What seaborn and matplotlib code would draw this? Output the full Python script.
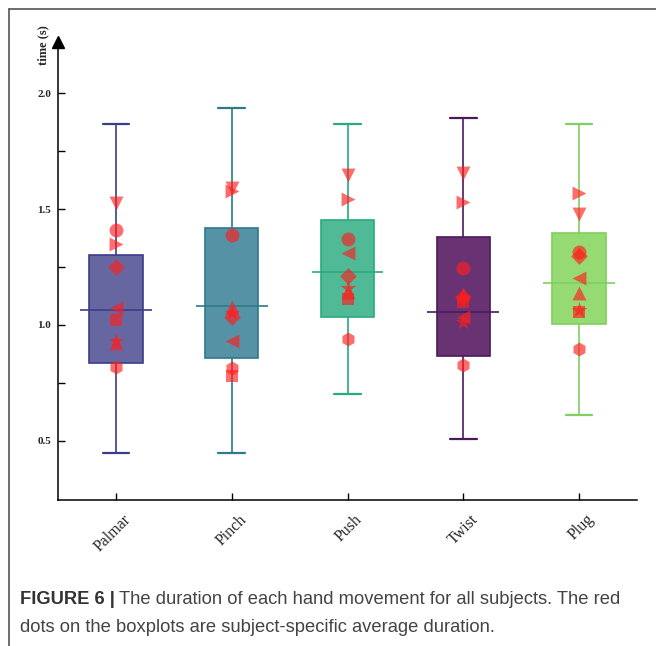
import numpy as np
import pandas as pd
import matplotlib.pyplot as plt
import matplotlib.transforms as mtransforms
from matplotlib.lines import Line2D
import seaborn as sns

# movements and box statistics (whisker low, q1, median, q3, whisker high)
movements = ["Palmar", "Pinch", "Push", "Twist", "Plug"]
whis_lo = [0.449, 0.449, 0.703, 0.507, 0.612]
q1 = [0.835, 0.856, 1.036, 0.867, 1.004]
median = [1.063, 1.082, 1.229, 1.055, 1.183]
q3 = [1.302, 1.420, 1.453, 1.381, 1.398]
whis_hi = [1.868, 1.937, 1.868, 1.893, 1.868]

fill_colors = ["#6666a0", "#5592a5", "#50b996", "#693373", "#96da73"]
edge_colors = ["#3c3c8c", "#2e7a8a", "#2aaa80", "#4a1a5a", "#7fd05e"]

# subject-specific averages, one marker per subject
subject_markers = ["v", "o", ">", "D", "<", "s", "*", "^", "h"]
subject_vals = {
    "v": [1.525, 1.591, 1.647, 1.657, 1.478],
    "o": [1.410, 1.387, 1.370, 1.245, 1.316],
    ">": [1.348, 1.578, 1.543, 1.530, 1.568],
    "D": [1.249, 1.036, 1.211, 1.121, 1.298],
    "<": [1.072, 0.932, 1.309, 1.036, 1.202],
    "s": [1.020, 0.780, 1.111, 1.101, 1.055],
    "*": [0.932, 1.052, 1.160, 1.013, 1.065],
    "^": [0.924, 1.079, 1.142, 1.134, 1.139],
    "h": [0.819, 0.814, 0.941, 0.827, 0.895],
}

sns.set_style("white")
plt.rcParams["font.family"] = ["Liberation Serif", "DejaVu Serif"]

fig = plt.figure(figsize=(6.56, 6.46), dpi=100)
ax = fig.add_axes([58 / 656, 1 - 500.3 / 646, (637 - 58) / 656, (500.3 - 42) / 646])

for i, m in enumerate(movements):
    vals = [whis_lo[i], q1[i], median[i], q3[i], whis_hi[i]]
    sns.boxplot(x=[m] * 5, y=vals, order=movements, color=fill_colors[i],
                linecolor=edge_colors[i], saturation=1, width=0.46,
                whis=(0, 100), linewidth=1.2, ax=ax,
                medianprops=dict(visible=False),
                capprops=dict(linewidth=1.6))
    ax.hlines(median[i], i - 0.31, i + 0.31, color=edge_colors[i], lw=1.2, zorder=3)

for mk in subject_markers:
    sz = 10
    if mk == "*":
        sz = 12
    elif mk in ("D", "s"):
        sz = 8.5
    sns.stripplot(x=movements, y=subject_vals[mk], order=movements, jitter=False,
                  marker=mk, color="#ff1e1e", alpha=0.65, size=sz, linewidth=0,
                  ax=ax, zorder=4)

ax.set_xlim(-0.5, 4.5)
ax.set_ylim(0.2434, 2.221)
ax.set_xlabel("")
ax.set_ylabel("")
sns.despine(ax=ax)
for sp in ["left", "bottom"]:
    ax.spines[sp].set_color("black")
    ax.spines[sp].set_linewidth(1.1)

ax.set_yticks([0.5, 1.0, 1.5, 2.0])
ax.set_yticks([0.75, 1.25, 1.75], minor=True)
ax.set_yticklabels(["0.5", "1.0", "1.5", "2.0"], fontsize=8, fontweight="bold")
ax.tick_params(axis="both", which="both", direction="in", length=5, width=1,
               color="black", left=True, bottom=True)
ax.tick_params(axis="y", pad=5)
ax.tick_params(axis="x", pad=0)

ax.set_xticks(range(len(movements)))
ax.set_xticklabels(movements, rotation=45, ha="right", va="top",
                   rotation_mode="anchor", fontsize=11.5)
offset = mtransforms.ScaledTranslation(7 / 100, -11 / 100, fig.dpi_scale_trans)
for lab in ax.get_xticklabels():
    lab.set_transform(lab.get_transform() + offset)

# arrow at the top of the y axis
ax.plot(0, 1, marker="^", markersize=8, color="black", transform=ax.transAxes,
        clip_on=False, zorder=5)

fig.text(43 / 656, 1 - 45 / 646, "time (s)", rotation=90, ha="center", va="center",
         fontsize=9, fontweight="bold")

# frame lines of the figure panel
fig.add_artist(Line2D([9 / 656, 1], [1 - 8.5 / 646, 1 - 8.5 / 646],
                      transform=fig.transFigure, color="#555555", lw=1.2))
fig.add_artist(Line2D([9 / 656, 9 / 656], [0, 1 - 8.5 / 646],
                      transform=fig.transFigure, color="#555555", lw=1.2))

# caption
cap_font = ["Liberation Sans", "DejaVu Sans"]
t1 = fig.text(20 / 656, 1 - 600 / 646, "FIGURE 6 |", family=cap_font,
              fontweight="bold", fontsize=13.2, color="#333333", va="center")
fig.canvas.draw()
bb = t1.get_window_extent(renderer=fig.canvas.get_renderer())
fig.text((bb.x1 + 4) / 656, 1 - 600 / 646,
         "The duration of each hand movement for all subjects. The red",
         family=cap_font, fontsize=13.2, color="#444444", va="center")
fig.text(20 / 656, 1 - 627 / 646,
         "dots on the boxplots are subject-specific average duration.",
         family=cap_font, fontsize=13.2, color="#444444", va="center")

fig.savefig("out.png", dpi=100)
